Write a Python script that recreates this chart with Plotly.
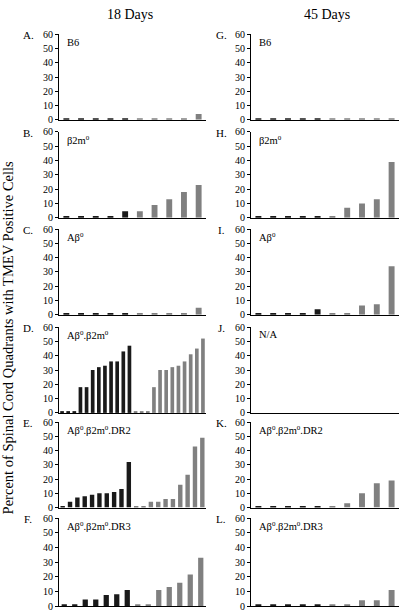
import plotly.graph_objects as go

# ---------------- data ----------------
column_titles = ["18 Days", "45 Days"]
y_title = "Percent of Spinal Cord Quadrants with TMEV Positive Cells"
y_ticks = [0, 10, 20, 30, 40, 50, 60]

SUP0 = "<sup><span style='font-size:7px'>0</span></sup>"
panel_letters = ["A.", "B.", "C.", "D.", "E.", "F.",
                 "G.", "H.", "I.", "J.", "K.", "L."]
strain_labels = [
    "B6",
    "β2m" + SUP0,
    "Aβ" + SUP0,
    "Aβ" + SUP0 + ".β2m" + SUP0,
    "Aβ" + SUP0 + ".β2m" + SUP0 + ".DR2",
    "Aβ" + SUP0 + ".β2m" + SUP0 + ".DR3",
    "B6",
    "β2m" + SUP0,
    "Aβ" + SUP0,
    "N/A",
    "Aβ" + SUP0 + ".β2m" + SUP0 + ".DR2",
    "Aβ" + SUP0 + ".β2m" + SUP0 + ".DR3",
]

# 18 days
A_black = [1, 1, 1, 1, 1]
A_grey = [1, 1, 1, 1, 4]
B_black = [1, 1, 1, 1, 4.5]
B_grey = [4.5, 9, 13, 18, 23]
C_black = [1, 1, 1, 1, 1]
C_grey = [1, 1, 1, 1, 5]
D_black = [1, 1, 1, 18, 18, 30, 32, 33, 36, 36, 43, 47]
D_grey = [1, 1, 1, 18, 30, 30, 32, 33, 36, 41, 45, 52]
E_black = [1, 4, 7, 8, 9, 10, 10, 11, 13, 32]
E_grey = [1, 1, 4, 4, 6, 6, 16, 23, 43, 49]
F_black = [1, 1, 4.5, 4.5, 7.5, 8, 11]
F_grey = [1, 1, 11, 13, 16, 21.5, 33]
# 45 days
G_black = [1, 1, 1, 1, 1]
G_grey = [1, 1, 1, 1, 1]
H_black = [1, 1, 1, 1, 1]
H_grey = [1, 7, 10, 13, 39]
I_black = [1, 1, 1, 1, 4]
I_grey = [1, 1, 6.5, 7.5, 34]
J_black = []
J_grey = []
K_black = [1, 1, 1, 1, 1]
K_grey = [1, 3, 10, 17, 19]
L_black = [1, 1, 1, 1, 1]
L_grey = [1, 1, 4, 4, 11]

blacks = [A_black, B_black, C_black, D_black, E_black, F_black,
          G_black, H_black, I_black, J_black, K_black, L_black]
greys = [A_grey, B_grey, C_grey, D_grey, E_grey, F_grey,
         G_grey, H_grey, I_grey, J_grey, K_grey, L_grey]

# ---------------- layout geometry (pixels) ----------------
W, H = 400, 615
col_x = [(59, 206), (251, 399)]
row_top = [29, 128.5, 227.5, 327.5, 424.5, 522.5]
row_bot = [116, 216, 315, 415, 511.5, 612]
letter_x = [28, 221]
label_x = [65, 257]

BLACK = "#1a1a1a"
GREY = "#808080"
FONT = "Liberation Serif, Times New Roman, serif"


def px_x(p):
    return p / W


def px_y(p):
    return 1 - p / H


fig = go.Figure()
annotations = []

for i in range(12):
    col = i // 6
    row = i % 6
    n = i + 1
    xa = "x" if n == 1 else f"x{n}"
    ya = "y" if n == 1 else f"y{n}"
    bl = blacks[i]
    gr = greys[i]
    nb = len(bl)
    total = nb + len(gr)
    if total == 0:
        total = 10
    if total <= 10:
        bw = 0.4
    elif total <= 14:
        bw = 0.5
    else:
        bw = 0.6
    if bl:
        fig.add_trace(go.Bar(x=list(range(nb)), y=bl, width=bw,
                             marker=dict(color=BLACK, line=dict(width=0)),
                             xaxis=xa, yaxis=ya, showlegend=False,
                             hoverinfo="y"))
    if gr:
        fig.add_trace(go.Bar(x=list(range(nb, nb + len(gr))), y=gr, width=bw,
                             marker=dict(color=GREY, line=dict(width=0)),
                             xaxis=xa, yaxis=ya, showlegend=False,
                             hoverinfo="y"))
    if not bl and not gr:
        fig.add_trace(go.Bar(x=[], y=[], xaxis=xa, yaxis=ya, showlegend=False))

    xkey = "xaxis" if n == 1 else f"xaxis{n}"
    ykey = "yaxis" if n == 1 else f"yaxis{n}"
    fig.layout[xkey] = dict(
        domain=[px_x(col_x[col][0]), px_x(col_x[col][1])],
        anchor=ya, range=[-0.5, total - 0.5],
        showline=True, linecolor="black", linewidth=1,
        showticklabels=False, ticks="", showgrid=False, zeroline=False,
        fixedrange=True,
    )
    fig.layout[ykey] = dict(
        domain=[px_y(row_bot[row]), px_y(row_top[row])],
        anchor=xa, range=[0, 60], tickvals=y_ticks,
        showline=True, linecolor="black", linewidth=1,
        ticks="outside", ticklen=3, tickwidth=1, tickcolor="black",
        tickfont=dict(family=FONT, size=10, color="black"),
        showgrid=False, zeroline=False, fixedrange=True,
    )
    annotations.append(dict(
        x=px_x(letter_x[col]), y=px_y(row_top[row] + 1),
        xref="paper", yref="paper", text=panel_letters[i],
        showarrow=False, xanchor="center", yanchor="middle",
        font=dict(family=FONT, size=11, color="black"),
    ))
    annotations.append(dict(
        x=px_x(label_x[col]), y=px_y(row_top[row] + 8),
        xref="paper", yref="paper", text=strain_labels[i],
        showarrow=False, xanchor="left", yanchor="middle",
        font=dict(family=FONT, size=10.5, color="black"),
    ))

for c, t in enumerate(column_titles):
    annotations.append(dict(
        x=px_x([130, 327][c]), y=px_y(9), xref="paper", yref="paper",
        text=t, showarrow=False, xanchor="center", yanchor="middle",
        font=dict(family=FONT, size=14, color="black"),
    ))

annotations.append(dict(
    x=px_x(8), y=px_y(339), xref="paper", yref="paper",
    text=y_title, textangle=-90, showarrow=False,
    xanchor="center", yanchor="middle",
    font=dict(family=FONT, size=14.5, color="black"),
))

fig.update_layout(
    width=W, height=H,
    margin=dict(l=0, r=0, t=0, b=0),
    paper_bgcolor="white", plot_bgcolor="white",
    barmode="overlay",
    annotations=annotations,
    showlegend=False,
)

fig.write_html(
    "out.html",
    config={"displayModeBar": False},
    post_script="document.body.style.margin='0';document.body.style.overflow='hidden';",
)
